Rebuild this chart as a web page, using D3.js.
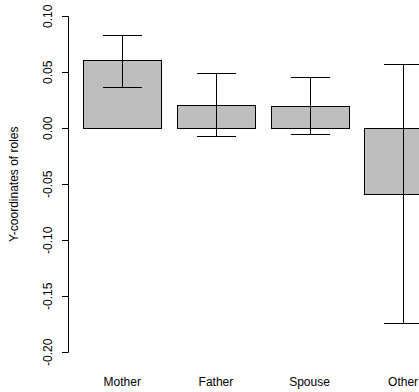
<!DOCTYPE html>
<html><head><meta charset="utf-8">
<script src="https://cdn.jsdelivr.net/npm/d3@7"></script>
<style>body{margin:0;background:#fff}svg{display:block}text{font-family:"Liberation Sans",Arial,sans-serif;font-size:12px;fill:#000}</style>
</head><body>
<script>
const categories = ["Mother","Father","Spouse","Other"];
const values = [0.0612, 0.0208, 0.0203, -0.0583];
const upper = [0.0835, 0.0497, 0.0455, 0.0571];
const lower = [0.0372, -0.0072, -0.0050, -0.1735];
const yTicks = [-0.20,-0.15,-0.10,-0.05,0.00,0.05,0.10];
const yLabel = "Y-coordinates of roles";

const W=419,H=392;
const svg=d3.select("body").append("svg").attr("width",W).attr("height",H);
const y=d3.scaleLinear().domain([-0.2,0.1]).range([352.3,16.3]);
// R barplot layout: width 1, space 0.2
const x=d3.scaleLinear().domain([0.2,1.2]).range([83.3,161.3]);
const start=i=>0.2+i*1.2;

const g=svg.append("g");
categories.forEach((c,i)=>{
  const x0=x(start(i)), x1=x(start(i)+1);
  const v=values[i];
  g.append("rect")
    .attr("x",Math.round(x0)+0.5).attr("width",Math.round(x1)-Math.round(x0))
    .attr("y",Math.round(y(Math.max(v,0)))+0.5)
    .attr("height",Math.round(y(Math.min(v,0)))-Math.round(y(Math.max(v,0))))
    .attr("fill","#bebebe").attr("stroke","#000").attr("stroke-width",1);
});
categories.forEach((c,i)=>{
  const cx=Math.round(x(start(i)+0.5))+0.5;
  const hw=x(0.2+0.25)-x(0.2);
  const el=g.append("g").attr("stroke","#000").attr("stroke-width",1);
  el.append("line").attr("x1",cx).attr("x2",cx).attr("y1",Math.round(y(upper[i]))+0.5).attr("y2",Math.round(y(lower[i]))+0.5);
  [upper[i],lower[i]].forEach(v=>{
    el.append("line").attr("x1",cx-hw).attr("x2",cx+hw).attr("y1",Math.round(y(v))+0.5).attr("y2",Math.round(y(v))+0.5);
  });
  svg.append("text").attr("x",x(start(i)+0.5)).attr("y",386).attr("text-anchor","middle").text(c);
});

// y axis
const ax=svg.append("g").attr("transform","translate(68.5,0)");
ax.append("line").attr("y1",y(-0.2)).attr("y2",y(0.1)).attr("stroke","#000");
yTicks.forEach(t=>{
  const ty=Math.round(y(t))+0.5;
  ax.append("line").attr("x1",-6.5).attr("x2",0).attr("y1",ty).attr("y2",ty).attr("stroke","#000");
  svg.append("text").attr("transform",`translate(51.5,${y(t)}) rotate(-90)`).attr("text-anchor","middle").text(d3.format(".2f")(t).replace("−","-"));
});
svg.append("text").attr("transform",`translate(18,${(y(-0.2)+y(0.1))/2}) rotate(-90)`).attr("text-anchor","middle").text(yLabel);
</script>
</body></html>
